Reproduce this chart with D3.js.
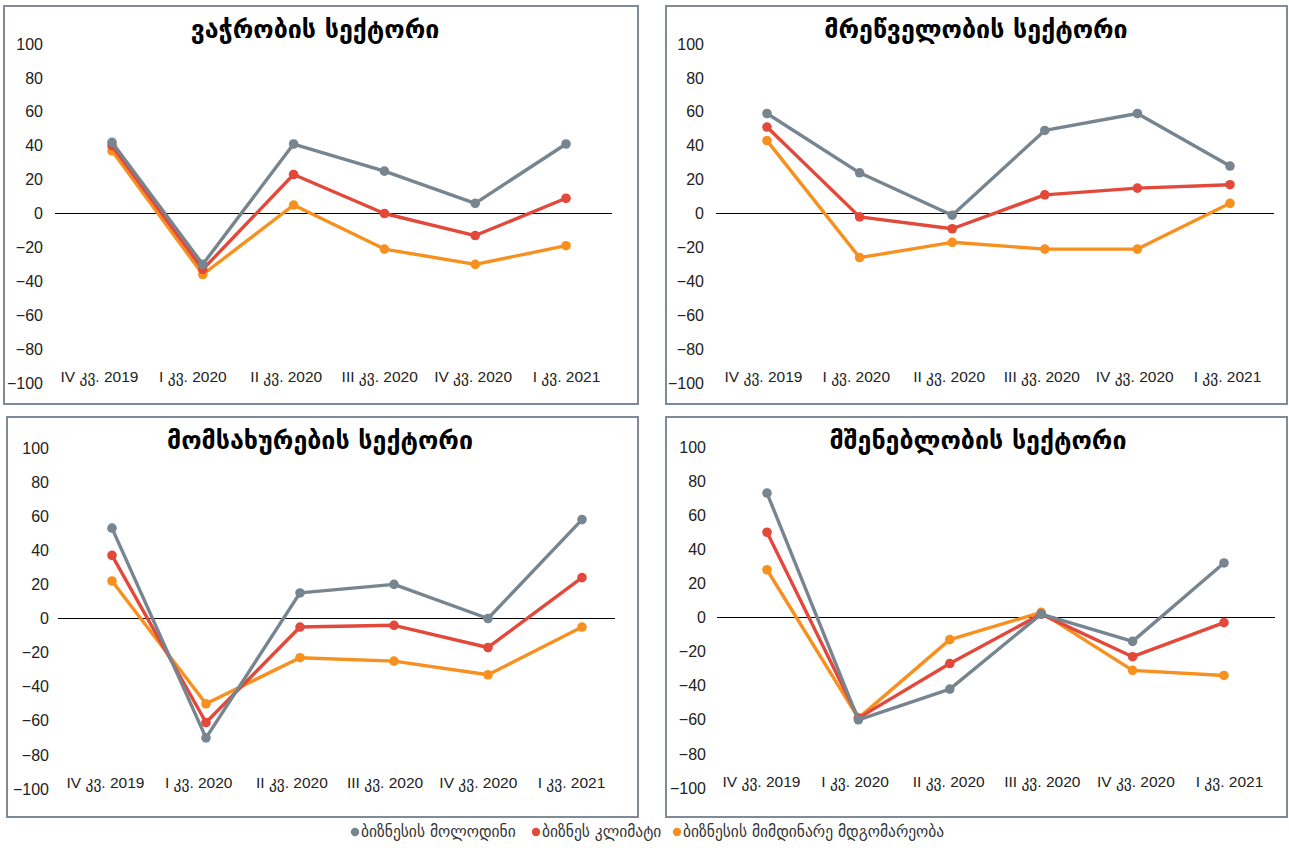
<!DOCTYPE html>
<html>
<head>
<meta charset="utf-8">
<script src="https://cdn.jsdelivr.net/npm/d3@7"></script>
<style>
  body { margin: 0; background: #fff; }
  svg { display: block; }
</style>
</head>
<body>
<div id="chart"></div>
<script>
// Categories and tick values
const quarters = ['IV კვ. 2019', 'I კვ. 2020', 'II კვ. 2020', 'III კვ. 2020', 'IV კვ. 2020', 'I კვ. 2021'];
const yTicks = [100, 80, 60, 40, 20, 0, -20, -40, -60, -80, -100];

const seriesNames = ['ბიზნესის მოლოდინი', 'ბიზნეს კლიმატი', 'ბიზნესის მიმდინარე მდგომარეობა'];
const seriesColors = ['#778590', '#e2493b', '#f7901e'];

const panelTitles = ['ვაჭრობის სექტორი', 'მრეწველობის სექტორი', 'მომსახურების სექტორი', 'მშენებლობის სექტორი'];

// Trade
const tradeExpect = [42, -30, 41, 25, 6, 41];
const tradeClimate = [40, -33, 23, 0, -13, 9];
const tradeCurrent = [37, -36, 5, -21, -30, -19];

// Industry
const industryExpect = [59, 24, -1, 49, 59, 28];
const industryClimate = [51, -2, -9, 11, 15, 17];
const industryCurrent = [43, -26, -17, -21, -21, 6];

// Services
const servicesExpect = [53, -70, 15, 20, 0, 58];
const servicesClimate = [37, -61, -5, -4, -17, 24];
const servicesCurrent = [22, -50, -23, -25, -33, -5];

// Construction
const constrExpect = [73, -60, -42, 2, -14, 32];
const constrClimate = [50, -59, -27, 2, -23, -3];
const constrCurrent = [28, -59, -13, 3, -31, -34];

const panelData = [
    [tradeExpect, tradeClimate, tradeCurrent],
    [industryExpect, industryClimate, industryCurrent],
    [servicesExpect, servicesClimate, servicesCurrent],
    [constrExpect, constrClimate, constrCurrent]
];

// Layout of each panel (box, plot ranges)
const layouts = [
    {box: [4, 6, 638, 404],    yTop: 44,  yBot: 383, pts: [112, 566], lbl: [99, 566],  zero: [55, 612],  tickX: 43,  titleX: 315, titleY: 31},
    {box: [666, 6, 1287, 404], yTop: 44,  yBot: 383, pts: [767, 1230], lbl: [763, 1227], zero: [716, 1274], tickX: 704, titleX: 976, titleY: 31},
    {box: [7, 417, 638, 817],  yTop: 448, yBot: 789, pts: [112, 582], lbl: [105, 571], zero: [58, 615],  tickX: 49,  titleX: 320, titleY: 442},
    {box: [666, 417, 1287, 817], yTop: 447, yBot: 788, pts: [767, 1224], lbl: [761, 1229], zero: [717, 1275], tickX: 706, titleX: 978, titleY: 442}
];

const width = 1289, height = 848;

const svg = d3.select('#chart')
    .append('svg')
    .attr('width', width)
    .attr('height', height);

svg.append('rect')
    .attr('width', width)
    .attr('height', height)
    .attr('fill', '#fff');

layouts.forEach((L, i) => {
    const g = svg.append('g');

    // Panel frame
    g.append('rect')
        .attr('x', L.box[0])
        .attr('y', L.box[1])
        .attr('width', L.box[2] - L.box[0])
        .attr('height', L.box[3] - L.box[1])
        .attr('fill', 'none')
        .attr('stroke', '#7f8c97')
        .attr('stroke-width', 2);

    const y = d3.scaleLinear().domain([-100, 100]).range([L.yBot, L.yTop]);
    const x = d3.scalePoint().domain(quarters).range(L.pts);
    const xl = d3.scalePoint().domain(quarters).range(L.lbl);

    // Title
    g.append('text')
        .attr('x', L.titleX)
        .attr('y', L.titleY)
        .attr('text-anchor', 'middle')
        .attr('dominant-baseline', 'middle')
        .attr('font-family', 'DejaVu Sans')
        .attr('font-weight', 'bold')
        .attr('font-size', '25px')
        .attr('fill', '#000')
        .text(panelTitles[i]);

    // Y axis labels
    g.append('g')
        .attr('transform', `translate(${L.tickX},0)`)
        .call(d3.axisLeft(y).tickValues(yTicks).tickSize(0).tickPadding(0).tickFormat(d3.format('d')))
        .call(a => a.select('.domain').remove())
        .call(a => a.selectAll('text')
            .attr('font-family', 'Liberation Sans, DejaVu Sans')
            .attr('font-size', '16px')
            .attr('fill', '#222'));

    // Category labels
    g.append('g')
        .attr('transform', `translate(0,${L.yBot - 6})`)
        .call(d3.axisBottom(xl).tickSize(0).tickPadding(0))
        .call(a => a.select('.domain').remove())
        .call(a => a.selectAll('text')
            .attr('dy', '0.35em')
            .attr('font-family', 'Liberation Sans, DejaVu Sans')
            .attr('font-size', '15.5px')
            .attr('fill', '#222'));

    // Zero line
    g.append('line')
        .attr('x1', L.zero[0])
        .attr('x2', L.zero[1])
        .attr('y1', y(0))
        .attr('y2', y(0))
        .attr('stroke', '#000')
        .attr('stroke-width', 1.2);

    const line = d3.line()
        .x((d, j) => x(quarters[j]))
        .y(d => y(d));

    // Draw series, expectations last so the order matches the reference
    const order = [2, 1, 0];
    order.forEach(s => {
        const vals = panelData[i][s];
        g.append('path')
            .datum(vals)
            .attr('d', line)
            .attr('fill', 'none')
            .attr('stroke', seriesColors[s])
            .attr('stroke-width', 3.4)
            .attr('stroke-linejoin', 'round');

        g.selectAll(null)
            .data(vals)
            .enter()
            .append('circle')
            .attr('cx', (d, j) => x(quarters[j]))
            .attr('cy', d => y(d))
            .attr('r', 4.8)
            .attr('fill', seriesColors[s]);
    });
});

// Legend
const legend = svg.append('g').attr('transform', 'translate(0,832)');
const legendX = [355, 536, 677];
seriesNames.forEach((name, s) => {
    legend.append('circle')
        .attr('cx', legendX[s])
        .attr('cy', 0)
        .attr('r', 4.2)
        .attr('fill', seriesColors[s]);
    legend.append('text')
        .attr('x', legendX[s] + 6)
        .attr('y', 0)
        .attr('dominant-baseline', 'middle')
        .attr('font-family', 'DejaVu Sans')
        .attr('font-size', '15.5px')
        .attr('fill', '#333')
        .text(name);
});
</script>
</body>
</html>
